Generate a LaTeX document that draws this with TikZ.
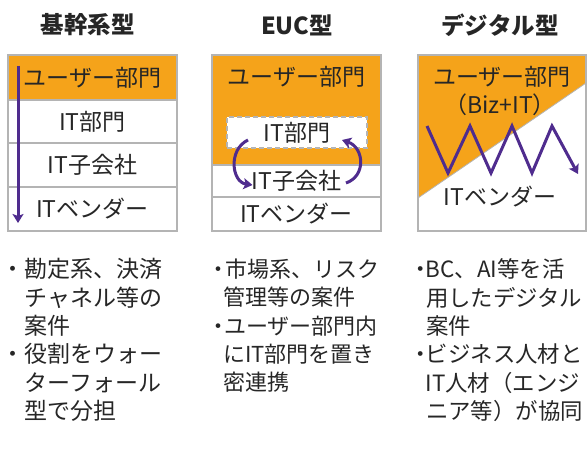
\documentclass[tikz,border=0pt]{standalone}
\usepackage{fontspec}
\newfontfamily\jp{Noto Sans CJK JP}
\usetikzlibrary{arrows.meta,calc}
\definecolor{org}{HTML}{F5A31A}
\definecolor{pur}{HTML}{4F2C8E}
\definecolor{bdr}{HTML}{B4B4B4}
\definecolor{txt}{HTML}{262626}
\begin{document}
\begin{tikzpicture}[x=1pt,y=-1pt,
  every node/.style={text=txt, font=\jp\fontsize{23}{27}\selectfont, inner sep=0pt, outer sep=0pt},
  ttl/.style={font=\jp\bfseries\fontsize{23.5}{28}\selectfont},
  cell/.style={draw=bdr, line width=1.3pt},
  dbox/.style={draw=bdr, fill=white, line width=1.2pt, dash pattern=on 5pt off 3pt},
  arr/.style={draw=pur, line width=3pt, -{Stealth[length=9pt,width=11pt,inset=2pt]}},
  tx/.style={anchor=west},
  tA/.style={font=\jp\fontsize{23}{27}\selectfont},
  tB/.style={font=\jp\fontsize{22}{27}\selectfont},
  tC/.style={font=\jp\fontsize{22.4}{27}\selectfont}
]
\useasboundingbox (0,0) rectangle (587,452);

% titles
\node[ttl] (t1) at (88,25) {基幹系型};
\node[ttl] (t2) at (297,25) {EUC型};
\node[ttl] (t3) at (500,25) {デジタル型};

% column 1
\node[cell, fill=org, minimum width=169, minimum height=45] (u1) at (92.5,77.5) {ユーザー部門};
\node[cell, fill=white, minimum width=169, minimum height=43] (i1) at (92.5,121.5) {IT部門};
\node[cell, fill=white, minimum width=169, minimum height=44] (s1) at (92.5,165) {IT子会社};
\node[cell, fill=white, minimum width=169, minimum height=44] (v1) at (92.5,209) {ITベンダー};
\coordinate (a1s) at (18,66);
\coordinate (a1e) at (18,223);
\draw[arr] (a1s) -- (a1e);

% column 2
\node[cell, fill=org, minimum width=169, minimum height=110] (u2) at (296.5,110) {};
\node (u2t) at (296.5,77) {ユーザー部門};
\node[dbox, minimum width=140, minimum height=31] (d2) at (297,132.5) {IT部門};
\node[cell, fill=white, minimum width=169, minimum height=32] (s2) at (296.5,181) {IT子会社};
\node[cell, fill=white, minimum width=169, minimum height=34] (v2) at (296.5,214) {ITベンダー};
\draw[arr] ($(d2.center)+(-49,7.5)$) .. controls ($(d2.center)+(-69,17)$) and ($(s2.center)+(-65,1)$) .. ($(s2.center)+(-44,4)$);
\draw[arr] ($(s2.center)+(49.5,2)$) .. controls ($(s2.center)+(70,-5)$) and ($(d2.center)+(67,15)$) .. ($(d2.center)+(45,7.5)$);

% column 3
\fill[org] (418,55) -- (586,55) -- (586,83) -- (418,198) -- cycle;
\draw[bdr, line width=0.8pt] (418,198) -- (586,83);
\node[cell, minimum width=168, minimum height=176] (b3) at (502,143) {};
\node (u3) at (502,77) {ユーザー部門};
\node (bz3) at (500,105) {（Biz+IT）};
\node (v3) at (500,197) {ITベンダー};
\coordinate (z0) at (427,126);
\coordinate (z1) at (448,173);
\coordinate (z2) at (470,126);
\coordinate (z3) at (491,173);
\coordinate (z4) at (512,126);
\coordinate (z5) at (532,173);
\coordinate (z6) at (552,126);
\coordinate (z7) at (578,174);
\draw[arr] (z0) -- (z1) -- (z2) -- (z3) -- (z4) -- (z5) -- (z6) -- (z7);

% bullets column 1
\node[tx, tA] (l11) at (1.5,269) {・勘定系、決済};
\node[tx, tA] (l12) at (24.5,297.5) {チャネル等の};
\node[tx, tA] (l13) at (24.5,326) {案件};
\node[tx, tA] (l14) at (1.5,354) {・役割をウォー};
\node[tx, tA] (l15) at (24.5,382.5) {ターフォール};
\node[tx, tA] (l16) at (24.5,411) {型で分担};

% bullets column 2
\node[tx, tB] (l21) at (207,269) {・\kern-4pt 市場系、リスク};
\node[tx, tB] (l22) at (223,297.5) {管理等の案件};
\node[tx, tB] (l23) at (207,326) {・\kern-5pt ユーザー部門内};
\node[tx, tB] (l24) at (223,354) {にIT部門を置き};
\node[tx, tB] (l25) at (223,382.5) {密連携};

% bullets column 3
\node[tx, tC] (l31) at (409,269) {・\kern-5.5pt BC、AI等を活};
\node[tx, tC] (l32) at (426,297.5) {用したデジタル};
\node[tx, tC] (l33) at (426,326) {案件};
\node[tx, tC] (l34) at (409,354) {・\kern-5.5pt ビジネス人材と};
\node[tx, tC] (l35) at (425.5,382.5) {IT人材（エンジ};
\node[tx, tC] (l36) at (426,411) {ニア等）が協同};
\end{tikzpicture}
\end{document}
